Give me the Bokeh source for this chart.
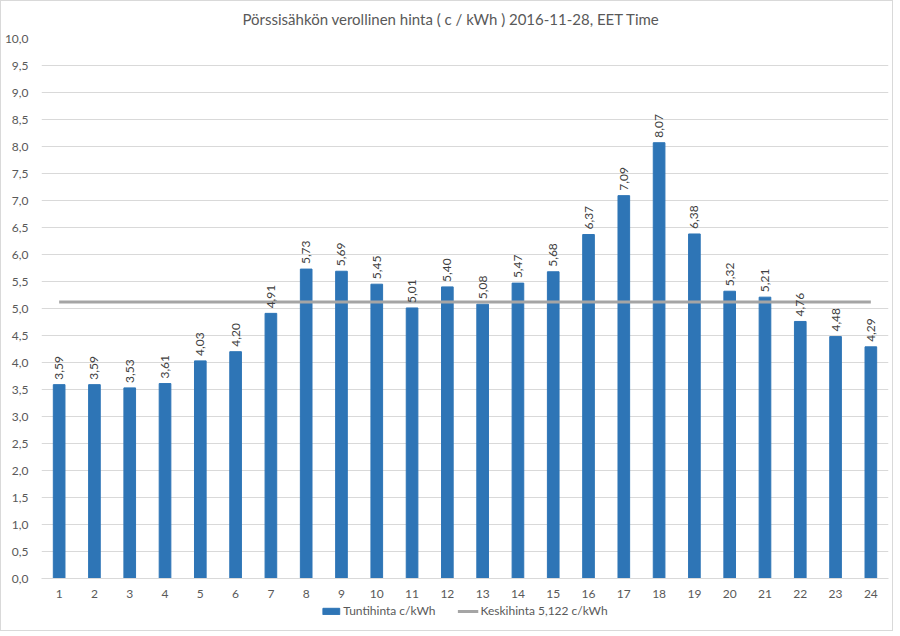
import math
from bokeh.plotting import figure
from bokeh.layouts import column
from bokeh.models import (ColumnDataSource, FixedTicker, CustomJSTickFormatter,
                          Legend, LegendItem, Range1d)
from bokeh.core.properties import value
from bokeh.embed import file_html
from bokeh.resources import INLINE

title_text = "Pörssisähkön verollinen hinta ( c / kWh ) 2016-11-28, EET Time"
hours = list(range(1, 25))
prices = [3.59, 3.59, 3.53, 3.61, 4.03, 4.20, 4.91, 5.73, 5.69, 5.45, 5.01, 5.40,
          5.08, 5.47, 5.68, 6.37, 7.09, 8.07, 6.38, 5.32, 5.21, 4.76, 4.48, 4.29]
mean_price = 5.122
bar_name = "Tuntihinta c/kWh"
mean_name = "Keskihinta 5,122 c/kWh"
y_ticks = [i * 0.5 for i in range(21)]

FONT = "Lato"
TXT = "#595959"
BAR = "#2E75B6"
AVG = "#A5A5A5"

src = ColumnDataSource(dict(
    x=hours, top=prices,
    lbl=[f"{v:.2f}".replace(".", ",") for v in prices],
))
msrc = ColumnDataSource(dict(x=[hours[0], hours[-1]], y=[mean_price, mean_price]))

p = figure(output_backend="svg", toolbar_location=None,
           x_range=Range1d(0.5, 24.5), y_range=Range1d(0, 10),
           frame_width=847, frame_height=540,
           min_border_left=39, min_border_right=4, min_border_top=35, min_border_bottom=22)
p.styles = {"margin-top": "-4px"}

p.title.text = title_text
p.title.align = "left"
p.title.offset = 201
p.title.text_font = FONT
p.title.text_font_size = "15px"
p.title.text_font_style = "normal"
p.title.text_color = TXT
p.title.text_line_height = 1.0
p.title.standoff = 21

p.vbar(x="x", top="top", width=0.33, bottom=0, source=src,
       fill_color=BAR, line_color=BAR)
p.line(x="x", y="y", source=msrc, line_color=AVG, line_width=3)
p.text(x="x", y="top", text="lbl", source=src, angle=math.pi / 2,
       text_align="left", text_baseline="middle", x_offset=0, y_offset=-5,
       text_font=value(FONT), text_font_size="12px", text_color="#404040")

p.outline_line_color = None
p.background_fill_color = "white"
p.border_fill_color = "white"
p.border_fill_alpha = 0
p.xgrid.grid_line_color = None
p.ygrid.grid_line_color = "#D9D9D9"
p.ygrid.ticker = FixedTicker(ticks=y_ticks)

p.yaxis.ticker = FixedTicker(ticks=y_ticks)
p.yaxis.formatter = CustomJSTickFormatter(code="return tick.toFixed(1).replace('.', ',');")
p.yaxis.axis_line_color = None
p.yaxis.major_tick_line_color = None
p.yaxis.minor_tick_line_color = None
p.yaxis.major_tick_out = 0
p.yaxis.major_tick_in = 0
p.yaxis.major_label_standoff = 13

p.xaxis.ticker = FixedTicker(ticks=hours)
p.xaxis.axis_line_color = "#D9D9D9"
p.xaxis.major_tick_line_color = None
p.xaxis.minor_tick_line_color = None
p.xaxis.major_tick_out = 0
p.xaxis.major_tick_in = 0
p.xaxis.major_label_standoff = 11

for ax in (p.xaxis[0], p.yaxis[0]):
    ax.major_label_text_font = FONT
    ax.major_label_text_font_size = "12px"
    ax.major_label_text_color = TXT

# legend strip below the chart (its renderers use the same data, kept out of view)
lg = figure(width=890, height=30, output_backend="svg", toolbar_location=None,
            x_range=Range1d(100, 101), y_range=Range1d(100, 101),
            min_border=0, min_border_left=0, min_border_right=0,
            min_border_top=0, min_border_bottom=0)
lg.axis.visible = False
lg.grid.visible = False
lg.outline_line_color = None
lb = lg.vbar(x="x", top="top", width=0.33, bottom=0, source=src,
             fill_color=BAR, line_color=BAR)
ll = lg.line(x="x", y="y", source=msrc, line_color=AVG, line_width=3)
legend = Legend(items=[LegendItem(label=bar_name, renderers=[lb]),
                       LegendItem(label=mean_name, renderers=[ll])],
                orientation="horizontal", location="top_center",
                label_text_font=FONT, label_text_font_size="12px",
                label_text_color=TXT, border_line_color=None,
                background_fill_alpha=0,
                glyph_width=21, glyph_height=8, label_height=12, spacing=22,
                padding=0, margin=3, label_standoff=2)
lg.add_layout(legend)

layout = column(p, lg, spacing=0, styles={"border": "1px solid #D9D9D9"})

open("out.html", "w").write(file_html(layout, INLINE))
